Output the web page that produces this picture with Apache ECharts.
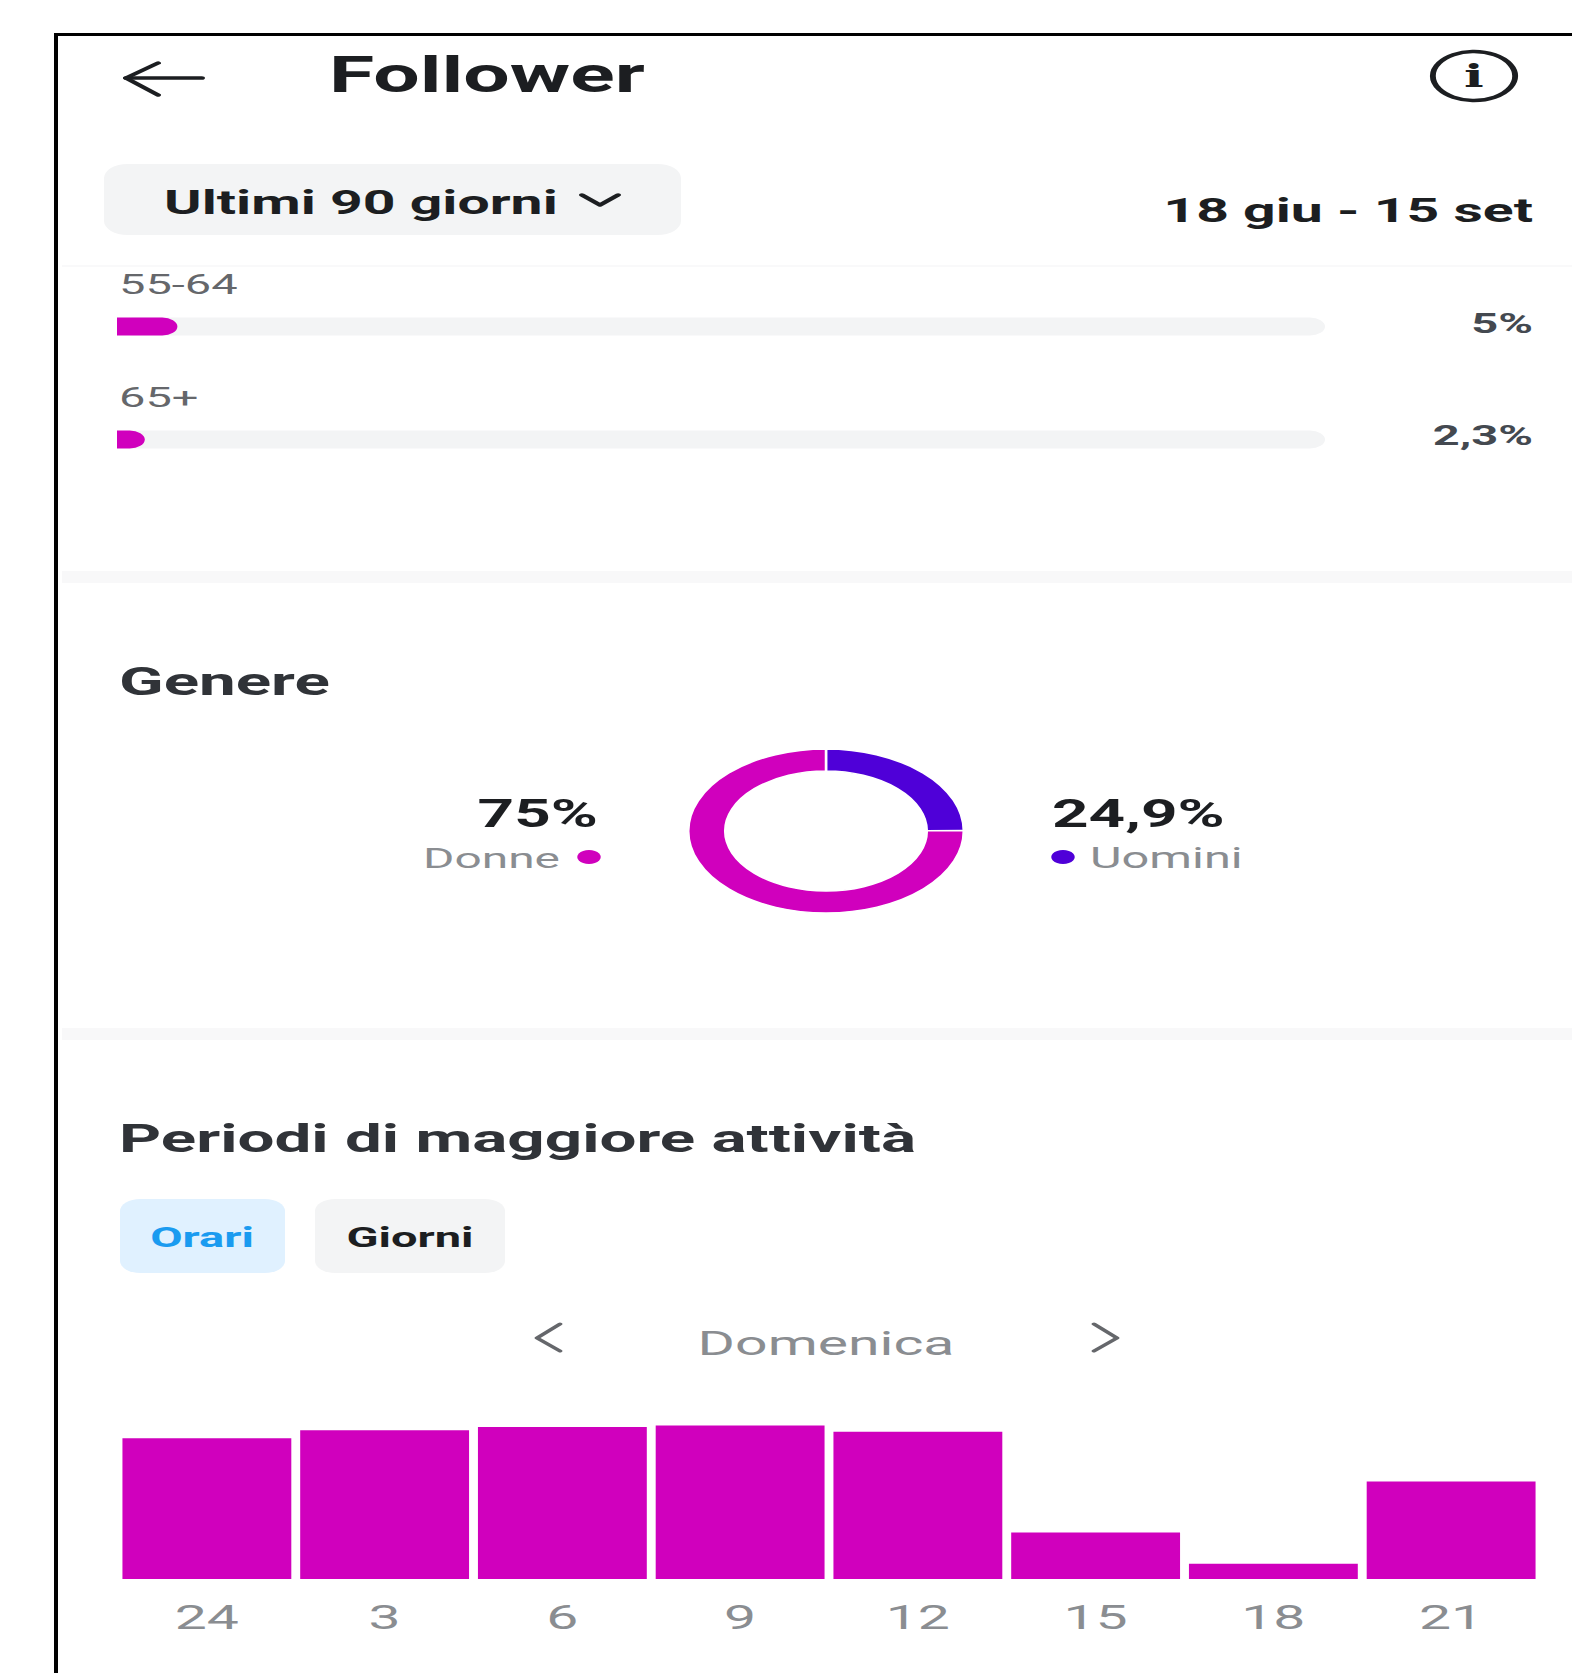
<!DOCTYPE html>
<html>
<head>
<meta charset="utf-8">
<style>
  html, body { margin: 0; padding: 0; background: #fff; overflow: hidden; }
  /* The screen is laid out at phone proportions and widened as a whole. */
  #chart { width: 936px; height: 1673px; transform: scaleX(1.68); transform-origin: 0 0; }
</style>
<script src="https://cdn.jsdelivr.net/npm/echarts@6/dist/echarts.min.js"></script>
</head>
<body>
<div id="chart"></div>
<script>
const ageGroups = ['55-64', '65+'];
const ageShares = [5, 2.3];
const genderNames = ['Uomini', 'Donne'];
const genderShares = [24.9, 75];
const hourLabels = ['24', '3', '6', '9', '12', '15', '18', '21'];
const hourActivity = [88, 93, 95, 96, 92, 29, 9.5, 61];

const MAGENTA = '#d000bd';
const PURPLE = '#4f00d8';
const INK = '#1c1e21';
const GREY = '#8a8d91';
const TRACK = '#f3f4f5';
const FONT = 'Roboto';
const STRETCH = 1.68;

// Horizontal screen pixels to layout units.
const X = v => v / STRETCH;
const pct = v => String(v).replace('.', ',') + '%';

function label(text, x, y, size, weight, color, align) {
  return {
    type: 'text', z: 10,
    style: {
      text, x: X(x), y, fill: color, align: align || 'left', verticalAlign: 'middle',
      font: `${weight} ${size}px ${FONT}`
    }
  };
}
function box(x0, y0, x1, y1, fill, r) {
  return {
    type: 'rect', z: 1,
    shape: { x: X(x0), y: y0, width: X(x1 - x0), height: y1 - y0, r: r || 0 },
    style: { fill }
  };
}
function stroke(points, color, width) {
  return {
    type: 'polyline', z: 10,
    shape: { points: points.map(p => [X(p[0]), p[1]]) },
    style: { stroke: color, lineWidth: width, fill: null, lineCap: 'round', lineJoin: 'round' }
  };
}
function dot(x, y, r, color) {
  return { type: 'circle', z: 10, shape: { cx: X(x), cy: y, r }, style: { fill: color } };
}

const graphics = [
  // Screen frame along the top and left edges
  box(55, 33, 1572, 36, '#000'),
  box(54, 33, 58, 1673, '#000'),

  // Header
  stroke([[202, 78], [126, 78]], INK, 3.5),
  stroke([[158, 63], [126, 78], [158, 95]], INK, 3.5),
  label('Follower', 329, 75, 49, 700, INK),
  { type: 'circle', z: 10, shape: { cx: X(1474), cy: 76, r: 24.5 },
    style: { fill: null, stroke: INK, lineWidth: 3.5 } },
  { type: 'text', z: 10, style: { text: 'i', x: X(1474), y: 76, align: 'center', verticalAlign: 'middle',
    fill: INK, font: 'bold 31px "DejaVu Serif"' } },

  // Period selector
  box(104, 164, 681, 235, TRACK, 14),
  label('Ultimi 90 giorni', 164, 202, 34, 700, INK),
  stroke([[582, 195], [600, 205], [618, 195]], INK, 3.5),
  label('18 giu - 15 set', 1533, 210, 34, 700, INK, 'right'),
  box(62, 265, 1572, 267, '#f9f9fa'),

  // Age rows
  label(ageGroups[0], 119, 284, 28, 400, '#65676b'),
  label(ageGroups[1], 119, 397, 28, 400, '#65676b'),
  label(pct(ageShares[0]), 1533, 323, 28, 700, '#444950', 'right'),
  label(pct(ageShares[1]), 1533, 435, 28, 700, '#444950', 'right'),
  box(62, 571, 1572, 583, '#f8f8f9'),

  // Gender section
  label('Genere', 119, 682, 39, 700, '#303338'),
  label(pct(genderShares[1]), 598, 814, 38, 700, INK, 'right'),
  label(genderNames[1], 560, 858, 28.5, 400, GREY, 'right'),
  dot(589, 857, 7, MAGENTA),
  label(pct(genderShares[0]), 1052, 814, 38, 700, INK),
  dot(1063, 857, 7, PURPLE),
  label(genderNames[0], 1090, 858, 29, 400, GREY),
  box(62, 1028, 1572, 1040, '#f8f8f9'),

  // Activity section
  label('Periodi di maggiore attività', 119, 1139, 39, 700, '#303338'),
  box(120, 1199, 285, 1273, '#e0f1ff', 12),
  label('Orari', 202, 1237, 28, 700, '#1a9bf0', 'center'),
  box(315, 1199, 505, 1273, TRACK, 12),
  label('Giorni', 410, 1237, 28, 700, INK, 'center'),
  label('Domenica', 826, 1343, 34, 400, GREY, 'center'),
  stroke([[560, 1324], [537, 1338], [560, 1351]], '#65676b', 3),
  stroke([[1094, 1324], [1117, 1338], [1094, 1351]], '#65676b', 3)
];

const chart = echarts.init(document.getElementById('chart'), null, { renderer: 'svg' });
chart.setOption({
  animation: false,
  backgroundColor: '#fff',
  graphic: graphics,
  grid: [
    { left: X(117), width: X(1208), top: 270, height: 226 },
    { left: X(118), width: X(1422), top: 1419, height: 160 }
  ],
  xAxis: [
    { gridIndex: 0, type: 'value', min: 0, max: 100, show: false },
    {
      gridIndex: 1, type: 'category', data: hourLabels,
      axisLine: { show: false }, axisTick: { show: false },
      axisLabel: { color: GREY, fontFamily: FONT, fontSize: 34, margin: 21 }
    }
  ],
  yAxis: [
    { gridIndex: 0, type: 'category', data: ageGroups, inverse: true, show: false },
    { gridIndex: 1, type: 'value', min: 0, max: 100, show: false }
  ],
  series: [
    {
      type: 'bar', xAxisIndex: 0, yAxisIndex: 0, data: ageShares, barWidth: 18,
      itemStyle: { color: MAGENTA, borderRadius: [0, 9, 9, 0] },
      showBackground: true,
      backgroundStyle: { color: TRACK, borderRadius: 9 }
    },
    {
      type: 'pie', center: [X(826), 831], radius: [60, 82], startAngle: 90,
      label: { show: false }, labelLine: { show: false },
      emphasis: { disabled: true },
      itemStyle: { borderColor: '#fff', borderWidth: 1.5 },
      data: [
        { name: genderNames[0], value: genderShares[0], itemStyle: { color: PURPLE } },
        { name: genderNames[1], value: genderShares[1], itemStyle: { color: MAGENTA } }
      ]
    },
    {
      type: 'bar', xAxisIndex: 1, yAxisIndex: 1, data: hourActivity,
      barCategoryGap: '5%', itemStyle: { color: MAGENTA }
    }
  ]
});
</script>
</body>
</html>
